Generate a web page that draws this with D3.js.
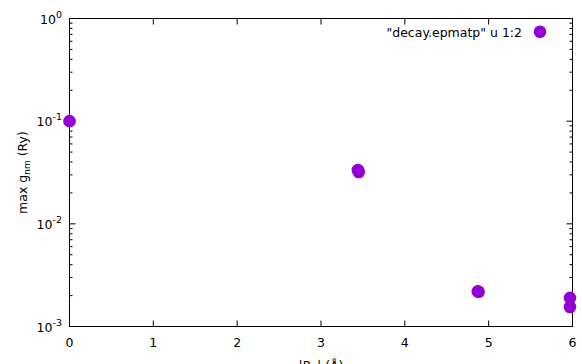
<!DOCTYPE html>
<html><head><meta charset="utf-8">
<script src="https://cdn.jsdelivr.net/npm/d3@7"></script>
<style>body{margin:0;background:#fff}svg{display:block}text{font-family:"DejaVu Sans",sans-serif;fill:#000}</style>
</head><body><svg id="c" width="582" height="364"></svg>
<script>
const xValues = [0, 3.44, 3.45, 4.87, 4.88, 5.97, 5.97];
const yValues = [0.1, 0.0335, 0.032, 0.0022, 0.00218, 0.0019, 0.00155];
const xTicks = [0, 1, 2, 3, 4, 5, 6];
const yTicks = [1e-3, 1e-2, 1e-1, 1];
const yExp = ["-3", "-2", "-1", "0"];
const legendLabel = '"decay.epmatp" u 1:2';
const color = "#9400d3";

const svg = d3.select("#c");
const L = 69.5, R = 572.5, T = 18.5, B = 326.5;
const x = d3.scaleLinear().domain([0, 6]).range([L, R]);
const y = d3.scaleLog().domain([1e-3, 1]).range([B, T]);

const g = svg.append("g");
const minors = [];
for (let d = -3; d < 0; d++) for (let m = 2; m <= 9; m++) minors.push(m * Math.pow(10, d));
minors.forEach(v => {
  g.append("line").attr("x1", L).attr("x2", L + 3).attr("y1", y(v)).attr("y2", y(v)).attr("stroke", "#000");
  g.append("line").attr("x1", R).attr("x2", R - 3).attr("y1", y(v)).attr("y2", y(v)).attr("stroke", "#000");
});
yTicks.forEach((v, i) => {
  g.append("line").attr("x1", L).attr("x2", L + 6).attr("y1", y(v)).attr("y2", y(v)).attr("stroke", "#000");
  g.append("line").attr("x1", R).attr("x2", R - 6).attr("y1", y(v)).attr("y2", y(v)).attr("stroke", "#000");
  const t = g.append("text").attr("x", 62).attr("y", y(v) + 5).attr("text-anchor", "end").attr("font-size", 12.5);
  t.append("tspan").text("10");
  t.append("tspan").attr("dy", -6).attr("font-size", 9.5).text(yExp[i]);
});
xTicks.forEach(v => {
  g.append("line").attr("x1", x(v)).attr("x2", x(v)).attr("y1", B).attr("y2", B - 6).attr("stroke", "#000");
  g.append("line").attr("x1", x(v)).attr("x2", x(v)).attr("y1", T).attr("y2", T + 6).attr("stroke", "#000");
  g.append("text").attr("x", x(v)).attr("y", 347).attr("text-anchor", "middle").attr("font-size", 12.5).text(v);
});
g.append("rect").attr("x", L).attr("y", T).attr("width", R - L).attr("height", B - T).attr("fill", "none").attr("stroke", "#000");

const yl = g.append("text").attr("transform", `translate(27,${(T + B) / 2}) rotate(-90)`).attr("text-anchor", "middle").attr("font-size", 12.5);
yl.append("tspan").text("max g");
yl.append("tspan").attr("dy", 3).attr("font-size", 9).text("nm");
yl.append("tspan").attr("dy", -3).text(" (Ry)");
const xl = g.append("text").attr("x", (L + R) / 2).attr("y", 370).attr("text-anchor", "middle").attr("font-size", 12.5);
xl.append("tspan").text("|R");
xl.append("tspan").attr("dy", 3).attr("font-size", 9).text("e");
xl.append("tspan").attr("dy", -3).text("| (Å)");

g.selectAll("circle.p").data(xValues.map((v, i) => [v, yValues[i]])).enter().append("circle")
  .attr("cx", d => x(d[0])).attr("cy", d => y(d[1])).attr("r", 6.3).attr("fill", color);

g.append("text").attr("x", 522).attr("y", 36.5).attr("text-anchor", "end").attr("font-size", 12.5).text(legendLabel);
g.append("circle").attr("cx", 540).attr("cy", 31.7).attr("r", 6.3).attr("fill", color);
</script></body></html>
